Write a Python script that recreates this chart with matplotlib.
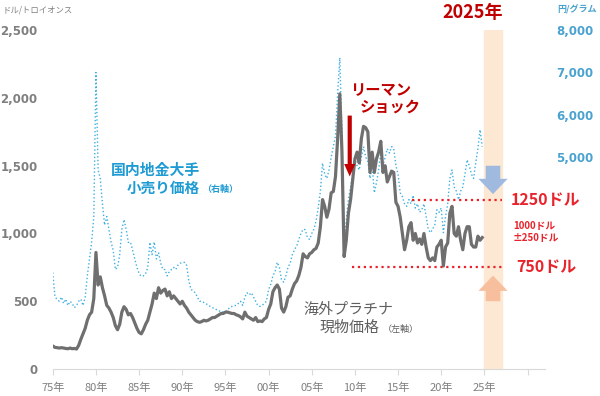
import numpy as np
import matplotlib.pyplot as plt

plt.rcParams['font.family'] = ['Noto Sans CJK JP', 'DejaVu Sans']

# quarterly points, 1975.00 .. 2024.75
years = np.arange(1975, 2025, 0.25)

# overseas platinum spot (USD / troy oz), left axis
platinum_usd = [
    170, 160, 158, 155,   158, 155, 152, 150,   155, 150, 152, 148,
    175, 220, 260, 300,   360, 400, 420, 520,   860, 620, 680, 600,
    540, 470, 450, 420,   380, 320, 290, 330,   420, 460, 440, 400,
    410, 380, 340, 300,   270, 260, 290, 330,   360, 420, 480, 560,
    520, 600, 560, 580,   590, 540, 570, 520,   540, 520, 500, 480,
    500, 470, 450, 420,   400, 380, 360, 350,   345, 350, 360, 355,
    360, 370, 380, 380,   390, 400, 410, 410,   420, 420, 415, 410,
    410, 400, 395, 385,   370, 420, 390, 380,   370, 360, 380, 350,
    355, 350, 370, 380,   440, 480, 570, 600,   620, 590, 450, 420,
    460, 530, 540, 590,   630, 650, 690, 750,   850, 830, 820, 850,
    860, 880, 890, 930,   1050, 1250, 1200, 1120, 1180, 1300, 1310, 1420,
    1700, 2030, 1600, 830, 950, 1150, 1250, 1400, 1550, 1600, 1520, 1700,
    1790, 1780, 1750, 1450, 1600, 1450, 1550, 1600, 1680, 1450, 1500, 1380,
    1420, 1460, 1450, 1230, 1200, 1120, 1000, 880, 950, 1050, 1080, 950,
    1000, 930, 960, 920,  1000, 900, 820, 800,   820, 800, 900, 920,
    950, 760, 900, 930,   1150, 1200, 1000, 980, 1050, 950, 880, 1000,
    1050, 1050, 920, 900, 900, 980, 950, 970,
]

# domestic retail price (JPY / g), right axis
retail_jpy = [
    2280, 1700, 1650, 1600, 1700, 1550, 1650, 1500, 1600, 1550, 1450, 1500,
    1600, 1650, 1500, 1690, 2200, 2600, 3000, 3600, 7000, 4700, 4500, 3900,
    3400, 3600, 3300, 3000, 2800, 2350, 2400, 2700, 3300, 3530, 3300, 2990,
    3000, 2800, 2600, 2400, 2250, 2190, 2200, 2250, 2400, 2990, 2700, 3000,
    2600, 2750, 2500, 2350, 2350, 2200, 2300, 2350, 2400, 2350, 2450, 2500,
    2500, 2520, 2450, 2100, 1880, 1850, 1800, 1700, 1600, 1600, 1570, 1550,
    1500, 1480, 1450, 1420, 1400, 1380, 1340, 1350, 1350, 1400, 1450, 1480,
    1500, 1500, 1550, 1600, 1500, 1700, 1800, 1750, 1800, 1700, 1600, 1500,
    1480, 1500, 1550, 1600, 1880, 2000, 2200, 2300, 2520, 2400, 2100, 2050,
    2200, 2400, 2500, 2700, 2820, 2900, 3060, 3200, 3300, 3290, 3100, 3060,
    3200, 3300, 3500, 3800, 4200, 4860, 4600, 4500, 4700, 5000, 5250, 5500,
    6500, 7350, 5500, 3000, 3500, 4000, 4300, 4600, 4940, 4800, 4700, 5000,
    5250, 5000, 4900, 4500, 4800, 4160, 4400, 4700, 5100, 4800, 5000, 5200,
    5100, 5250, 5200, 4800, 4600, 4160, 4070, 3900, 3840, 4000, 3900, 4100,
    3800, 3900, 3700, 3760, 3900, 3600, 3300, 3220, 3300, 3400, 3760, 3700,
    3800, 3220, 3600, 3900, 4500, 4700, 4300, 4200, 4000, 4200, 4300, 4600,
    4940, 4800, 4600, 4500, 4870, 5200, 5650, 5250,
]

tick_years = [1975, 1980, 1985, 1990, 1995, 2000, 2005, 2010, 2015, 2020, 2025, 2030]
tick_labels = ['75年', '80年', '85年', '90年', '95年', '00年', '05年', '10年', '15年', '20年', '25年', '']

gray = '#6f6f6f'
blue = '#1f9bd3'
red = '#e8232b'
dark_red = '#c00000'

fig = plt.figure(figsize=(6, 3.96), dpi=100)
ax = fig.add_axes([0.088, 0.068, 0.82, 0.856])
ax2 = ax.twinx()

# forecast band for 2025
ax.axvspan(2025, 2027, color='#fde9d3', zorder=0)

ax2.plot(years, retail_jpy, color='#3fb0e0', lw=1.0, ls=':', zorder=2)
ax.plot(years, platinum_usd, color=gray, lw=2.3, zorder=3)
ax.set_zorder(ax2.get_zorder() + 1)
ax.patch.set_visible(False)

ax.set_xlim(1975, 2032)
ax.set_ylim(0, 2500)
ax2.set_ylim(0, 8000)

ax.set_yticks([0, 500, 1000, 1500, 2000, 2500])
ax.set_yticklabels(['0', '500', '1,000', '1,500', '2,000', '2,500'],
                   color='#7f7f7f', fontweight='bold', fontsize=8.5, family='DejaVu Sans')
ax2.set_yticks([5000, 6000, 7000, 8000])
ax2.set_yticklabels(['5,000', '6,000', '7,000', '8,000'],
                    color='#4aa3cf', fontweight='bold', fontsize=8.5, family='DejaVu Sans')
ax.set_xticks(tick_years)
ax.set_xticklabels(tick_labels, color='#7f7f7f', fontsize=8)

for a in (ax, ax2):
    for s in ['top', 'left', 'right', 'bottom']:
        a.spines[s].set_visible(False)
ax.spines['bottom'].set_visible(True)
ax.spines['bottom'].set_color('#d9d9d9')
ax.tick_params(axis='x', length=4, color='#d9d9d9', pad=6)
ax.tick_params(axis='y', length=0, pad=11)
ax2.tick_params(axis='y', length=0, pad=8)

fig.text(0.005, 0.975, 'ドル/トロイオンス', fontsize=6, color='#7f7f7f', va='center')
fig.text(0.928, 0.975, '円/グラム', fontsize=6.5, color='#4aa3cf', va='center', fontweight='bold')

# level lines
ax.plot([2016.6, 2027], [1250, 1250], color=red, ls=':', lw=1.6, zorder=4)
ax.plot([2009.7, 2027], [750, 750], color=red, ls=':', lw=1.6, zorder=4)

# arrows inside band
ax.annotate('', xy=(2026, 1270), xytext=(2026, 1520),
            arrowprops=dict(arrowstyle='simple,head_width=2.1,head_length=1.1,tail_width=1.05',
                            color='#9fb9df', lw=0), zorder=5)
ax.annotate('', xy=(2026, 710), xytext=(2026, 480),
            arrowprops=dict(arrowstyle='simple,head_width=2.1,head_length=1.1,tail_width=1.05',
                            color='#f7bf9e', lw=0), zorder=5)

# Lehman arrow
ax.annotate('', xy=(2009.4, 1400), xytext=(2009.4, 1890),
            arrowprops=dict(arrowstyle='simple,head_width=0.8,head_length=0.9,tail_width=0.3',
                            color=dark_red, lw=0), zorder=6)

ax.text(2023.6, 2560, '2025年', color=dark_red, fontsize=13, fontweight='bold', ha='center', va='bottom')
ax.text(2009.4, 2060, 'リーマン', color=dark_red, fontsize=11, fontweight='bold', va='center')
ax.text(2010.6, 1935, 'ショック', color=dark_red, fontsize=11, fontweight='bold', va='center')

ax.text(2028.0, 1250, '1250ドル', color=red, fontsize=11.5, fontweight='bold', va='center')
ax.text(2028.3, 1010, '1000ドル\n±250ドル', color=red, fontsize=7, fontweight='bold', va='center',
        linespacing=1.2)
ax.text(2028.7, 750, '750ドル', color=red, fontsize=11.5, fontweight='bold', va='center')

ax.text(1981.7, 1467, '国内地金大手', color=blue, fontsize=10.7, fontweight='bold', va='center')
ax.text(1983.6, 1335, '小売り価格', color=blue, fontsize=10.5, fontweight='bold', va='center')
ax.text(1992.3, 1325, '（右軸）', color=blue, fontsize=6.5, fontweight='bold', va='center')

ax.text(2004.0, 435, '海外プラチナ', color='#5f5f5f', fontsize=10.8, va='center')
ax.text(2005.9, 302, '現物価格', color='#5f5f5f', fontsize=10.8, va='center')
ax.text(2013.2, 295, '（左軸）', color='#5f5f5f', fontsize=6.5, va='center')

fig.savefig('out.png', dpi=100)
